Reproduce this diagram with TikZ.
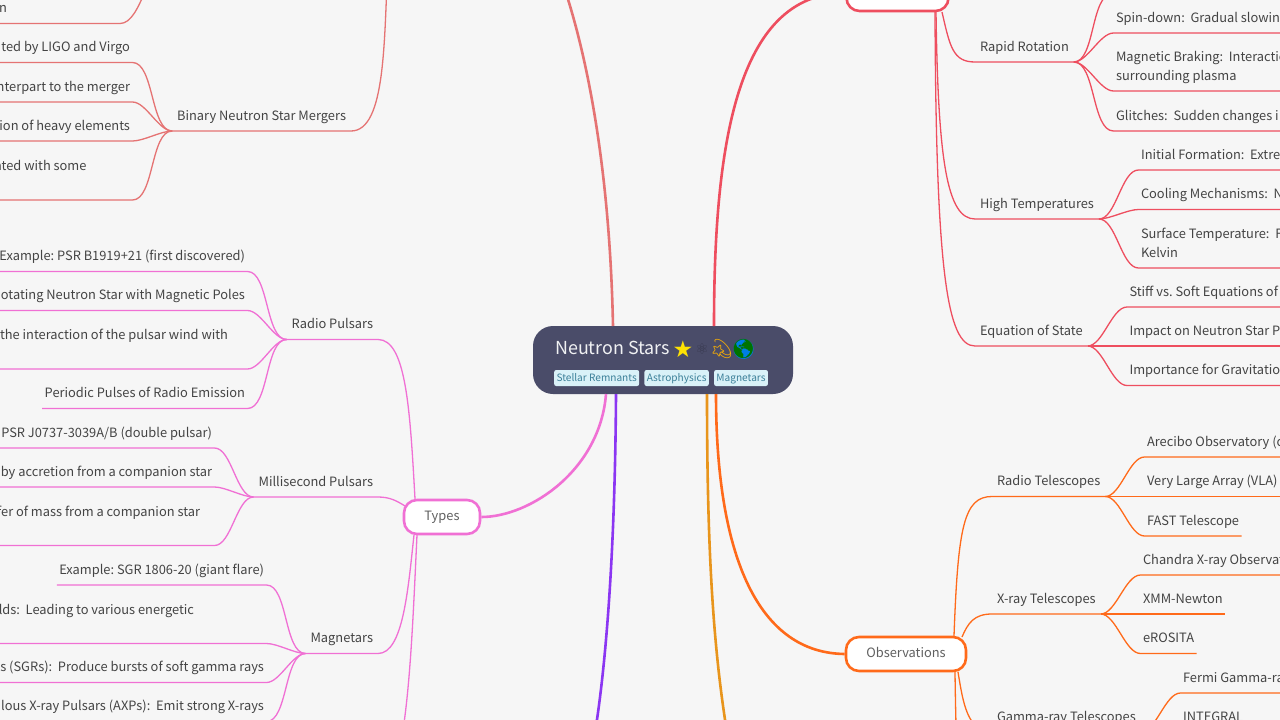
\documentclass[tikz,border=0pt]{standalone}
\usepackage{fontspec}
\usepackage{xcolor}
\usetikzlibrary{positioning}
\setmainfont{Noto Sans CJK SC}
\newfontfamily\emojifont{Noto Emoji}
\newfontfamily\symbolfont{DejaVu Sans}
\definecolor{pagebg}{HTML}{F6F6F6}
\definecolor{inktext}{HTML}{444444}
\definecolor{rootfill}{HTML}{4A4C69}
\definecolor{tagfill}{HTML}{D9F1F8}
\definecolor{tagtext}{HTML}{3B7F98}
\definecolor{salmonb}{HTML}{E57373}
\definecolor{redb}{HTML}{EE4E5F}
\definecolor{orangeb}{HTML}{FF6A1A}
\definecolor{pinkb}{HTML}{F070D4}
\definecolor{purpleb}{HTML}{8B36F2}
\definecolor{amberb}{HTML}{E8951C}
\frenchspacing
\tikzset{
  every to/.style={looseness=.7},
  thick branch/.style={line width=2.6pt},
  thin branch/.style={line width=1.3pt},
  txt/.style={font=\fontsize{12.85}{18.5}\selectfont,text=inktext,inner ysep=5.35pt,outer sep=0pt,
    execute at begin node=\strut,execute at end node=\strut},
  rleaf/.style={txt,anchor=south west,align=left,inner xsep=2.5pt},
  lleaf/.style={txt,anchor=south east,align=right,inner xsep=2.5pt},
  rsub/.style={txt,anchor=south west,inner xsep=5pt},
  lsub/.style={txt,anchor=south east,inner xsep=5pt},
  topicbox/.style={draw,fill=white,line width=2.6pt,rounded corners=13pt,minimum height=34pt,
    font=\fontsize{12.85}{18.5}\selectfont,text=inktext!85,text height=10pt,text depth=3pt},
  tag/.style={fill=tagfill,text=tagtext,rounded corners=2pt,inner xsep=2.3pt,inner ysep=0pt,
    minimum height=16pt,text height=8pt,text depth=2pt,font=\fontsize{10.1}{12}\selectfont},
  emoji/.style={inner sep=0pt,font=\emojifont\fontsize{19}{20}\selectfont}
}
\begin{document}
\begin{tikzpicture}[x=1pt,y=-1pt]
  \path[fill=pagebg,use as bounding box] (0,0) rectangle (1280,720);
  \coordinate (edgeL) at (-5,0);
  \coordinate (edgeR) at (1285,0);

  % centre
  \node[fill=rootfill,rounded corners=20pt,minimum width=260pt,minimum height=68pt] (root) at (663,360) {};
  \node[anchor=base west,inner sep=0pt,text=white!92!rootfill,font=\fontsize{17.9}{20}\selectfont] (title) at (555,354) {Neutron Stars};
  \node[inner sep=0pt,text=yellow!85!orange,font=\symbolfont\fontsize{23}{24}\selectfont] (staricon) at (683,349) {★};
  \node[inner sep=0pt,text=rootfill!75!black,font=\symbolfont\fontsize{15}{16}\selectfont] (atomicon) at (702,349) {⚛};
  \node[emoji,text=orange!60!yellow] (dizzyicon) at (722,349) {💫};
  \fill[blue!45!cyan!90!black] (743.5,349) circle (10);
  \node[emoji,text=green!45!black] (globeicon) at (743.5,349) {🌎};
  \node[tag,anchor=west] (remnants) at (554,378) {Stellar Remnants};
  \node[tag,right=5pt of remnants] (astro) {Astrophysics};
  \node[tag,right=5pt of astro] (magtag) {Magnetars};

  % first level boxes
  \node[topicbox,draw=redb,minimum width=102pt,minimum height=36pt] (structure) at (897.5,-7) {};
  \node[topicbox,draw=orangeb,minimum width=120pt] (observations) at (906,654) {Observations};
  \node[topicbox,draw=pinkb,minimum width=76pt] (types) at (442,517) {Types};

  \coordinate (rootTL) at (613,326);
  \coordinate (rootTR) at (714,326);
  \coordinate (rootBL) at (606,394);
  \coordinate (rootBM) at (616,394);
  \coordinate (rootBA) at (707,394);
  \coordinate (rootBR) at (716,394);
  \coordinate (offTop) at (560,-25);
  \coordinate (offPurple) at (592,750);
  \coordinate (offAmber) at (730,750);

  \draw[thick branch,salmonb] (rootTL) .. controls (610,180) and (590,60) .. (offTop);
  \draw[thick branch,redb] (rootTR) .. controls (714,150) and (735,-7) .. (structure.west);
  \draw[thick branch,pinkb] (rootBL) .. controls (600,470) and (530,517) .. (types.east);
  \draw[thick branch,purpleb] (rootBM) .. controls (615,560) and (605,680) .. (offPurple);
  \draw[thick branch,amberb] (rootBA) .. controls (707,560) and (714,660) .. (offAmber);
  \draw[thick branch,orangeb] (rootBR) .. controls (716,560) and (760,653) .. (observations.west);

  % structure side
  \coordinate (strA) at (942,12);
  \coordinate (strB) at (936,11);
  \coordinate (strC) at (935,11);
  \node[rsub] (rapid) at (975,62) {Rapid Rotation};
  \node[rsub] (hightemp) at (975,219) {High Temperatures};
  \node[rsub] (eos) at (975,346) {Equation of State};
  \draw[thin branch,redb] (strA) .. controls +(8,35) and +(-22,0) .. (rapid.south west) -- (rapid.south east);
  \draw[thin branch,redb] (strB) .. controls +(2,150) and +(-28,0) .. (hightemp.south west) -- (hightemp.south east);
  \draw[thin branch,redb] (strC) .. controls +(1,260) and +(-28,0) .. (eos.south west) -- (eos.south east);

  \coordinate (rapidtop) at (1112,-6);
  \node[rleaf] (spindown) at (1113.5,33) {Spin-down:~ Gradual slowin};
  \node[rleaf] (braking) at (1113.5,91) {Magnetic Braking:~ Interactic\\surrounding plasma};
  \node[rleaf] (glitches) at (1113.5,131) {Glitches:~ Sudden changes i};
  \draw[thin branch,redb] (rapid.south east) to[out=0,in=180] (rapidtop) -- (rapidtop -| edgeR);
  \draw[thin branch,redb] (rapid.south east) to[out=0,in=180] (spindown.south west) -- (spindown.south west -| edgeR);
  \draw[thin branch,redb] (rapid.south east) to[out=0,in=180] (braking.south west) -- (braking.south west -| edgeR);
  \draw[thin branch,redb] (rapid.south east) to[out=0,in=180] (glitches.south west) -- (glitches.south west -| edgeR);

  \node[rleaf] (initial) at (1138.5,170) {Initial Formation:~ Extre};
  \node[rleaf] (cooling) at (1138.5,209.5) {Cooling Mechanisms:~ N};
  \node[rleaf] (surface) at (1138.5,268) {Surface Temperature:~ F\\Kelvin};
  \draw[thin branch,redb] (hightemp.south east) to[out=0,in=180] (initial.south west) -- (initial.south west -| edgeR);
  \draw[thin branch,redb] (hightemp.south east) to[out=0,in=180] (cooling.south west) -- (cooling.south west -| edgeR);
  \draw[thin branch,redb] (hightemp.south east) to[out=0,in=180] (surface.south west) -- (surface.south west -| edgeR);

  \node[rleaf] (stiff) at (1127,307) {Stiff vs. Soft Equations of};
  \node[rleaf] (impact) at (1127,346) {Impact on Neutron Star P};
  \node[rleaf] (gravit) at (1127,385.5) {Importance for Gravitatio};
  \draw[thin branch,redb] (eos.south east) to[out=0,in=180] (stiff.south west) -- (stiff.south west -| edgeR);
  \draw[thin branch,redb] (eos.south east) -- (impact.south west) -- (impact.south west -| edgeR);
  \draw[thin branch,redb] (eos.south east) to[out=0,in=180] (gravit.south west) -- (gravit.south west -| edgeR);

  % observations side
  \coordinate (obsA) at (954,636);
  \coordinate (obsB) at (962,637);
  \coordinate (obsC) at (958,672);
  \coordinate (obsD) at (955,672);
  \coordinate (obsnext) at (992,900);
  \node[rsub] (radiotel) at (992,496.5) {Radio Telescopes};
  \node[rsub] (xraytel) at (992,614) {X-ray Telescopes};
  \node[rsub] (gammatel) at (992,732) {Gamma-ray Telescopes};
  \draw[thin branch,orangeb] (obsA) .. controls +(4,-110) and +(-28,0) .. (radiotel.south west) -- (radiotel.south east);
  \draw[thin branch,orangeb] (obsB) .. controls +(6,-14) and +(-18,0) .. (xraytel.south west) -- (xraytel.south east);
  \draw[thin branch,orangeb] (obsC) .. controls +(5,30) and +(-25,0) .. (gammatel.south west) -- (gammatel.south east);
  \draw[thin branch,orangeb] (obsD) .. controls +(2,150) and +(-28,0) .. (obsnext);

  \node[rleaf] (arecibo) at (1144.5,457) {Arecibo Observatory (c};
  \node[rleaf] (vla) at (1144.5,496.5) {Very Large Array (VLA)};
  \node[rleaf] (fast) at (1144.5,536) {FAST Telescope};
  \draw[thin branch,orangeb] (radiotel.south east) to[out=0,in=180] (arecibo.south west) -- (arecibo.south west -| edgeR);
  \draw[thin branch,orangeb] (radiotel.south east) -- (vla.south west) -- (vla.south west -| edgeR);
  \draw[thin branch,orangeb] (radiotel.south east) to[out=0,in=180] (fast.south west) -- (fast.south east);

  \node[rleaf] (chandra) at (1140.5,575) {Chandra X-ray Observat};
  \node[rleaf] (xmm) at (1140.5,614) {XMM-Newton};
  \node[rleaf] (erosita) at (1140.5,653.5) {eROSITA};
  \draw[thin branch,orangeb] (xraytel.south east) to[out=0,in=180] (chandra.south west) -- (chandra.south west -| edgeR);
  \draw[thin branch,orangeb] (xraytel.south east) -- (xmm.south west) -- (xmm.south east);
  \draw[thin branch,orangeb] (xraytel.south east) to[out=0,in=180] (erosita.south west) -- (erosita.south east);

  \node[rleaf] (fermi) at (1180.5,693) {Fermi Gamma-ra};
  \node[rleaf] (integral) at (1180.5,732) {INTEGRAL};
  \draw[thin branch,orangeb] (gammatel.south east) to[out=0,in=180] (fermi.south west) -- (fermi.south west -| edgeR);
  \draw[thin branch,orangeb] (gammatel.south east) -- (integral.south west) -- (integral.south west -| edgeR);

  % mergers, top left
  \coordinate (offMergers) at (388,-40);
  \coordinate (mergerstop) at (170,-40);
  \node[lsub] (mergers) at (351,131) {Binary Neutron Star Mergers};
  \draw[thin branch,salmonb] (mergers.south west) -- (mergers.south east) .. controls +(35,0) and +(-4,80) .. (offMergers);

  \node[lleaf] (tailn) at (120,23.5) {};
  \node[txt,anchor=south west,inner xsep=0pt] (tailtext) at (-1,23.5) {n};
  \node[lleaf] (ligo) at (132.5,62.5) {ted by LIGO and Virgo};
  \node[lleaf] (merger) at (132.5,102) {nterpart to the merger};
  \node[lleaf] (heavy) at (132.5,141) {ion of heavy elements};
  \node[lleaf] (some) at (89,200) {ated with some\\~};
  \draw[thin branch,salmonb] (mergerstop) to[out=180,in=0] (tailn.south east) -- (tailn.south east -| edgeL);
  \draw[thin branch,salmonb] (mergers.south west) to[out=180,in=0] (ligo.south east) -- (ligo.south east -| edgeL);
  \draw[thin branch,salmonb] (mergers.south west) to[out=180,in=0] (merger.south east) -- (merger.south east -| edgeL);
  \draw[thin branch,salmonb] (mergers.south west) to[out=180,in=0] (heavy.south east) -- (heavy.south east -| edgeL);
  \draw[thin branch,salmonb] (mergers.south west) to[out=180,in=0] (132.5,200) -- (some.south east) -- (some.south east -| edgeL);

  % types side
  \coordinate (typA) at (415,499);
  \coordinate (typB) at (405,506);
  \coordinate (typC) at (414,535);
  \coordinate (typD) at (417,535);
  \coordinate (typnext) at (385,790);
  \node[lsub] (radiopulsar) at (378,339.5) {Radio Pulsars};
  \node[lsub] (millisec) at (378,497) {Millisecond Pulsars};
  \node[lsub] (magnetar) at (378,653.5) {Magnetars};
  \draw[thin branch,pinkb] (radiopulsar.south west) -- (radiopulsar.south east) .. controls +(28,0) and +(-5,-90) .. (typA);
  \draw[thin branch,pinkb] (millisec.south west) -- (millisec.south east) .. controls +(12,0) and +(-8,-5) .. (typB);
  \draw[thin branch,pinkb] (magnetar.south west) -- (magnetar.south east) .. controls +(25,0) and +(-6,55) .. (typC);
  \draw[thin branch,pinkb] (typD) .. controls (412,640) and (408,760) .. (typnext);

  \node[lleaf] (b1919) at (247.5,271.5) {Example: PSR B1919+21 (first discovered)};
  \node[lleaf] (poles) at (247.5,310.5) {otating Neutron Star with Magnetic Poles};
  \node[lleaf] (wind) at (230.5,369) {the interaction of the pulsar wind with\\~};
  \node[lleaf] (periodic) at (247.5,408.5) {Periodic Pulses of Radio Emission};
  \draw[thin branch,pinkb] (radiopulsar.south west) to[out=180,in=0] (b1919.south east) -- (b1919.south east -| edgeL);
  \draw[thin branch,pinkb] (radiopulsar.south west) to[out=180,in=0] (poles.south east) -- (poles.south east -| edgeL);
  \draw[thin branch,pinkb] (radiopulsar.south west) to[out=180,in=0] (247.5,369) -- (wind.south east) -- (wind.south east -| edgeL);
  \draw[thin branch,pinkb] (radiopulsar.south west) to[out=180,in=0] (periodic.south east) -- (periodic.south west);

  \node[lleaf] (j0737) at (214.5,448) {PSR J0737-3039A/B (double pulsar)};
  \node[lleaf] (accretion) at (214.5,487) {by accretion from a companion star};
  \node[lleaf] (transfer) at (202.5,545.5) {fer of mass from a companion star\\~};
  \draw[thin branch,pinkb] (millisec.south west) to[out=180,in=0] (j0737.south east) -- (j0737.south east -| edgeL);
  \draw[thin branch,pinkb] (millisec.south west) to[out=180,in=0] (accretion.south east) -- (accretion.south east -| edgeL);
  \draw[thin branch,pinkb] (millisec.south west) to[out=180,in=0] (214.5,545.5) -- (transfer.south east) -- (transfer.south east -| edgeL);

  \node[lleaf] (sgr1806) at (266.5,585) {Example: SGR 1806-20 (giant flare)};
  \node[lleaf] (fields) at (196.5,643.5) {lds:~ Leading to various energetic\\~};
  \node[lleaf] (sgrs) at (266.5,682.5) {s (SGRs):~ Produce bursts of soft gamma rays};
  \node[lleaf] (axps) at (266.5,721.5) {lous X-ray Pulsars (AXPs):~ Emit strong X-rays};
  \draw[thin branch,pinkb] (magnetar.south west) to[out=180,in=0] (sgr1806.south east) -- (sgr1806.south west);
  \draw[thin branch,pinkb] (magnetar.south west) to[out=180,in=0] (266.5,643.5) -- (fields.south east) -- (fields.south east -| edgeL);
  \draw[thin branch,pinkb] (magnetar.south west) to[out=180,in=0] (sgrs.south east) -- (sgrs.south east -| edgeL);
  \draw[thin branch,pinkb] (magnetar.south west) to[out=180,in=0] (axps.south east) -- (axps.south east -| edgeL);
\end{tikzpicture}
\end{document}
